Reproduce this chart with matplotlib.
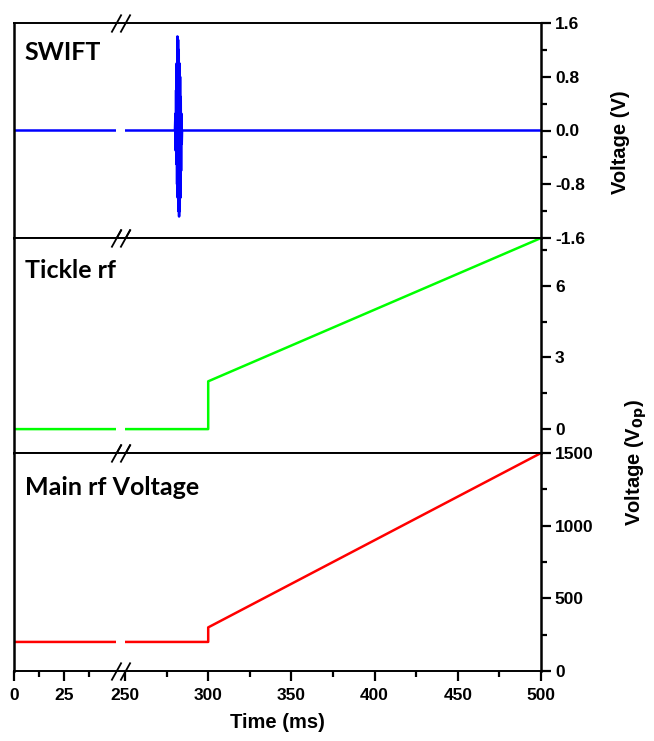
import numpy as np
import matplotlib
matplotlib.use('Agg')
import matplotlib.pyplot as plt
from matplotlib.ticker import FixedLocator
import matplotlib.transforms as mtransforms

# --- data ---
swift_t = [0, 280.0, 280.3, 280.5, 280.7, 280.9, 281.1, 281.3, 281.5, 281.7, 281.9,
           282.1, 282.3, 282.5, 282.7, 282.9, 283.1, 283.3, 283.5, 283.7, 283.9,
           284.1, 284.3, 500]
swift_v = [0, 0, 0.25, -0.3, 0.6, -0.5, 1.0, -0.8, 1.4, -1.0, 1.35,
           -1.2, 1.2, -1.28, 1.0, -1.2, 0.8, -1.0, 0.5, -0.6, 0.25,
           -0.2, 0, 0]

tickle_t = [0, 300, 300, 500]
tickle_v = [0, 0, 2, 8]

main_t = [0, 300, 300, 500]
main_v = [200, 200, 300, 1500]

x_major = [0, 25, 250, 300, 350, 400, 450, 500]
x_minor = [12.5, 37.5, 275, 325, 375, 425, 475]
break_lo, break_hi = 51, 250

# broken time axis: 0-51 ms and 250-500 ms
def fwd(x):
    x = np.asarray(x, float)
    return np.where(x <= 51, x * 2.0,
                    np.where(x >= 250, 111 + (x - 250) * 1.664,
                             102 + (x - 51) * 9 / 199))

def inv(u):
    u = np.asarray(u, float)
    return np.where(u <= 102, u / 2.0,
                    np.where(u >= 111, 250 + (u - 111) / 1.664,
                             51 + (u - 102) * 199 / 9))

tick_font = dict(family='Liberation Sans', weight='bold', size=12.5)
panel_font = dict(family='Lato', weight='bold', size=18)
label_font = dict(family='Liberation Sans', weight='bold', size=14.5)

fig = plt.figure(figsize=(6.54, 7.41), dpi=100)
W, H = 654, 741
left, right = 14, 541
bounds = [(23, 238), (238, 453), (453, 671)]

axes = []
for i, (top, bot) in enumerate(bounds):
    ax = fig.add_axes([left / W, 1 - bot / H, (right - left) / W, (bot - top) / H])
    ax.set_xscale('function', functions=(fwd, inv))
    ax.set_xlim(0, 500)
    for s in ax.spines.values():
        s.set_linewidth(1.4)
    ax.spines['right'].set_linewidth(1.8)
    ax.spines['left'].set_linewidth(1.8)
    ax.yaxis.tick_right()
    ax.tick_params(axis='y', which='major', direction='out', length=7, width=1.6, pad=3)
    ax.tick_params(axis='y', which='minor', direction='out', length=4, width=1.6)
    ax.tick_params(axis='x', which='both', direction='out', width=1.6)
    ax.tick_params(axis='x', which='major', length=7, pad=5)
    ax.tick_params(axis='x', which='minor', length=4)
    ax.xaxis.set_major_locator(FixedLocator(x_major))
    ax.xaxis.set_minor_locator(FixedLocator(x_minor))
    if i < 2:
        ax.tick_params(axis='x', which='both', bottom=False, labelbottom=False)
    # gap in the data lines
    ax.axvspan(break_lo, break_hi, color='white', zorder=2.2, lw=0)
    # break marks on top and bottom spines
    trans = mtransforms.blended_transform_factory(ax.transData, ax.transAxes)
    for yb in (0, 1):
        ax.plot([break_lo, break_hi], [yb, yb], transform=trans, ls='none',
                marker=[(-1, -1.8), (1, 1.8)], markersize=13, mew=1.3,
                color='black', clip_on=False, zorder=5)
    axes.append(ax)

ax1, ax2, ax3 = axes

ax1.plot(swift_t, swift_v, color='#0000ff', lw=1.8)
ax1.set_ylim(-1.6, 1.6)
ax1.yaxis.set_major_locator(FixedLocator([-1.6, -0.8, 0.0, 0.8, 1.6]))
ax1.yaxis.set_minor_locator(FixedLocator([-1.2, -0.4, 0.4, 1.2]))
ax1.set_yticklabels(['-1.6', '-0.8', '0.0', '0.8', '1.6'], **tick_font)
ax1.text(0.02, 0.865, 'SWIFT', transform=ax1.transAxes, va='center', **panel_font)

ax2.plot(tickle_t, tickle_v, color='#00ff00', lw=1.8)
ax2.set_ylim(-1, 8)
ax2.yaxis.set_major_locator(FixedLocator([0, 3, 6]))
ax2.yaxis.set_minor_locator(FixedLocator([1.5, 4.5, 7.5]))
ax2.set_yticklabels(['0', '3', '6'], **tick_font)
ax2.text(0.02, 0.85, 'Tickle rf', transform=ax2.transAxes, va='center', **panel_font)

ax3.plot(main_t, main_v, color='#ff0000', lw=1.8)
ax3.set_ylim(0, 1500)
ax3.yaxis.set_major_locator(FixedLocator([0, 500, 1000, 1500]))
ax3.yaxis.set_minor_locator(FixedLocator([250, 750, 1250]))
ax3.set_yticklabels(['0', '500', '1000', '1500'], **tick_font)
ax3.set_xticklabels([str(v) for v in x_major], **tick_font)
ax3.text(0.02, 0.84, 'Main rf Voltage', transform=ax3.transAxes, va='center', **panel_font)

fig.text(620 / W, 1 - 142 / H, 'Voltage (V)', rotation=90, ha='center', va='center', **label_font)
fig.text(636 / W, 1 - 463 / H, r'Voltage (V$_{\mathbf{0p}}$)', rotation=90,
         ha='center', va='center', **label_font)
fig.text(277 / W, 1 - 722 / H, 'Time (ms)', ha='center', va='center', **label_font)

fig.savefig('out.png', dpi=100)
